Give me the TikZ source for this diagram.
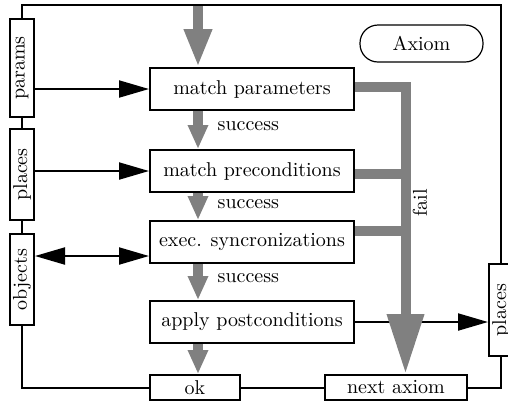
\documentclass[tikz,border=0pt]{standalone}
\usetikzlibrary{positioning, arrows.meta}

\begin{document}
\begin{tikzpicture}[x=0.5pt, y=-0.5pt, font=\fontsize{10}{12}\selectfont,
    box/.style={rectangle, draw, line width=1pt, minimum width=102pt, minimum height=21pt, inner sep=2pt},
    tab/.style={rectangle, draw, line width=1pt, rotate=90, minimum width=45.5pt, minimum height=12pt, inner sep=1pt},
    exitbox/.style={rectangle, draw, line width=1pt, minimum height=12.5pt, inner sep=1pt},
    wire/.style={line width=1pt},
    flow/.style={line width=1pt, -{Triangle[length=15pt, width=8.5pt]}},
    grayflow/.style={draw=gray, line width=5pt, -{Triangle[length=12pt, width=9.5pt]}},
    failbar/.style={draw=gray, line width=5pt}]
            \useasboundingbox (0,0) rectangle (508,404);

            % Nodes
            \node (mp) [box] at (252,89) {match parameters};
            \node (mpre) [box, below=19pt of mp] {match preconditions};
            \node (exec) [box, below=13.5pt of mpre] {exec. syncronizations};
            \node (apply) [box, below=18pt of exec] {apply postconditions};
            \node (ok) [exitbox, minimum width=45pt] at (195,387.5) {ok};
            \node (next) [exitbox, minimum width=71pt, right=41.5pt of ok] {next axiom};
            \node (params) [tab, minimum width=49pt] at (22,68) {params};
            \node (lplaces) [tab] at (22,174.5) {places};
            \node (objects) [tab] at (22,279.5) {objects};
            \node (rplaces) [tab, minimum width=46pt] at (501,310) {places};
            \node (axiom) [draw, line width=0.6pt, rounded corners=9pt, minimum width=61.5pt, minimum height=18.5pt] at (421.5,43.5) {Axiom};
            \node (fail) [rotate=90] at (420,203) {fail};
            \coordinate (entry) at (198,6);
            \coordinate (bus) at ([xshift=4.75pt]next.north);
            \coordinate (sync) at ([yshift=-7pt]exec.west);
            \coordinate (f2) at ([yshift=-1.5pt]mpre.east);
            \coordinate (f3) at ([yshift=5.5pt]exec.east);

            % Frame
            \draw[wire] (params.east) -- ++(0,-13) -| (rplaces.east);
            \draw[wire] (params.west) -- (lplaces.east);
            \draw[wire] (lplaces.west) -- (objects.east);
            \draw[wire] (objects.west) |- (ok);
            \draw[wire] (ok) -- (next);
            \draw[wire] (next) -| (rplaces.west);

            % Arrows
            \draw[flow] (mp.west -| params.south) -- (mp.west);
            \draw[flow] (mpre.west -| lplaces.south) -- (mpre.west);
            \draw[flow, {Triangle[length=15pt, width=8.5pt]}-{Triangle[length=15pt, width=8.5pt]}] (sync -| objects.south) -- (sync);
            \draw[flow] (apply.east) -- (apply.east -| rplaces.north);
            \draw[grayflow, -{Triangle[length=19pt, width=13pt]}] (entry) -- (entry |- mp.north);
            \draw[grayflow] ([xshift=-27pt]mp.south) -- ([xshift=-27pt]mpre.north) node[pos=0.4, right=4pt, text=black] {success};
            \draw[grayflow] ([xshift=-27pt]mpre.south) -- ([xshift=-27pt]exec.north) node[pos=0.4, right=4pt, text=black] {success};
            \draw[grayflow] ([xshift=-27pt]exec.south) -- ([xshift=-27pt]apply.north) node[pos=0.4, right=4pt, text=black] {success};
            \draw[grayflow] ([xshift=-27pt]apply.south) -- ([xshift=-27pt]apply.south |- ok.north);

            % Fail bus
            \draw[failbar, -{Triangle[length=30pt, width=17.5pt]}] ([yshift=1pt]mp.east) -| (bus);
            \draw[failbar] (f2) -- (f2 -| bus);
            \draw[failbar] (f3) -- (f3 -| bus);
\end{tikzpicture}
\end{document}
